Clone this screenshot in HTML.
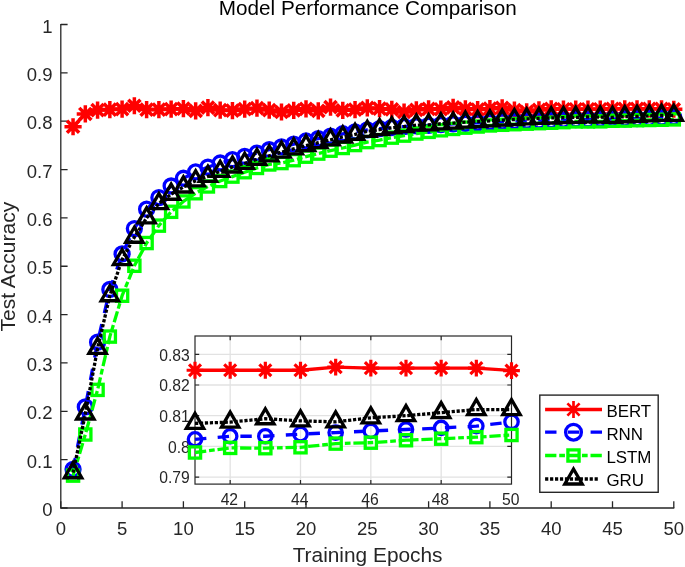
<!DOCTYPE html>
<html lang="en">
<head>
<meta charset="utf-8">
<title>Model Performance Comparison</title>
<style>html,body{margin:0;padding:0;background:#fff}svg{display:block;will-change:transform}</style>
</head>
<body>
<svg width="685" height="567" viewBox="0 0 685 567" font-family="'Liberation Sans', sans-serif">
<rect width="685" height="567" fill="#fff"/>
<path d="M60.8 24.0V508.0H674.3" stroke="#262626" stroke-width="1.3" fill="none"/>
<path d="M60.80 508.0v-6.8M122.10 508.0v-6.8M183.40 508.0v-6.8M244.70 508.0v-6.8M306.00 508.0v-6.8M367.30 508.0v-6.8M428.60 508.0v-6.8M489.90 508.0v-6.8M551.20 508.0v-6.8M612.50 508.0v-6.8M673.80 508.0v-6.8M60.8 508.00h6.8M60.8 459.65h6.8M60.8 411.30h6.8M60.8 362.95h6.8M60.8 314.60h6.8M60.8 266.25h6.8M60.8 217.90h6.8M60.8 169.55h6.8M60.8 121.20h6.8M60.8 72.85h6.8M60.8 24.50h6.8" stroke="#262626" stroke-width="1.3" fill="none"/>
<g font-size="18.5" fill="#262626">
<text x="60.80" y="534.7" text-anchor="middle">0</text>
<text x="122.10" y="534.7" text-anchor="middle">5</text>
<text x="183.40" y="534.7" text-anchor="middle">10</text>
<text x="244.70" y="534.7" text-anchor="middle">15</text>
<text x="306.00" y="534.7" text-anchor="middle">20</text>
<text x="367.30" y="534.7" text-anchor="middle">25</text>
<text x="428.60" y="534.7" text-anchor="middle">30</text>
<text x="489.90" y="534.7" text-anchor="middle">35</text>
<text x="551.20" y="534.7" text-anchor="middle">40</text>
<text x="612.50" y="534.7" text-anchor="middle">45</text>
<text x="673.80" y="534.7" text-anchor="middle">50</text>
<text x="52.5" y="516.00" text-anchor="end">0</text>
<text x="52.5" y="467.65" text-anchor="end">0.1</text>
<text x="52.5" y="419.30" text-anchor="end">0.2</text>
<text x="52.5" y="370.95" text-anchor="end">0.3</text>
<text x="52.5" y="322.60" text-anchor="end">0.4</text>
<text x="52.5" y="274.25" text-anchor="end">0.5</text>
<text x="52.5" y="225.90" text-anchor="end">0.6</text>
<text x="52.5" y="177.55" text-anchor="end">0.7</text>
<text x="52.5" y="129.20" text-anchor="end">0.8</text>
<text x="52.5" y="80.85" text-anchor="end">0.9</text>
<text x="52.5" y="32.50" text-anchor="end">1</text>
</g>
<text x="367.75" y="14.8" font-size="20.7" text-anchor="middle" fill="#000">Model Performance Comparison</text>
<text x="367.6" y="561.8" font-size="20.85" text-anchor="middle" fill="#262626">Training Epochs</text>
<text transform="translate(15.3 266.6) rotate(-90)" font-size="21" text-anchor="middle" fill="#262626">Test Accuracy</text>
<path d="M73.06 126.76L85.32 113.95L97.58 110.08L109.84 109.60L122.10 109.11L134.36 105.73L146.62 109.60L158.88 109.60L171.14 109.11L183.40 108.63L195.66 110.80L207.92 107.66L220.18 110.08L232.44 110.56L244.70 109.11L256.96 108.15L269.22 110.08L281.48 112.01L293.74 110.32L306.00 108.82L318.26 110.80L330.52 107.18L342.78 110.32L355.04 109.60L367.30 107.90L379.56 108.63L391.82 109.35L404.08 112.01L416.34 109.84L428.60 108.87L440.86 109.21L453.12 107.42L465.38 108.87L477.64 109.60L489.90 108.63L502.16 107.81L514.42 110.08L526.68 111.77L538.94 109.89L551.20 108.77L563.46 109.21L575.72 109.21L587.98 109.21L600.24 109.21L612.50 108.73L624.76 108.87L637.02 108.87L649.28 108.87L661.54 108.87L673.80 109.26" stroke="#ff0000" stroke-width="3.3" fill="none" stroke-linejoin="round"/>
<g><path d="M64.46 126.76H81.66M73.06 118.16V135.36M66.98 120.68L79.14 132.84M66.98 132.84L79.14 120.68" stroke="#ff0000" stroke-width="3.5" fill="none"/><path d="M76.72 113.95H93.92M85.32 105.35V122.55M79.24 107.87L91.40 120.03M79.24 120.03L91.40 107.87" stroke="#ff0000" stroke-width="3.5" fill="none"/><path d="M88.98 110.08H106.18M97.58 101.48V118.68M91.50 104.00L103.66 116.16M91.50 116.16L103.66 104.00" stroke="#ff0000" stroke-width="3.5" fill="none"/><path d="M101.24 109.60H118.44M109.84 101.00V118.20M103.76 103.51L115.92 115.68M103.76 115.68L115.92 103.51" stroke="#ff0000" stroke-width="3.5" fill="none"/><path d="M113.50 109.11H130.70M122.10 100.51V117.71M116.02 103.03L128.18 115.19M116.02 115.19L128.18 103.03" stroke="#ff0000" stroke-width="3.5" fill="none"/><path d="M125.76 105.73H142.96M134.36 97.13V114.33M128.28 99.65L140.44 111.81M128.28 111.81L140.44 99.65" stroke="#ff0000" stroke-width="3.5" fill="none"/><path d="M138.02 109.60H155.22M146.62 101.00V118.20M140.54 103.51L152.70 115.68M140.54 115.68L152.70 103.51" stroke="#ff0000" stroke-width="3.5" fill="none"/><path d="M150.28 109.60H167.48M158.88 101.00V118.20M152.80 103.51L164.96 115.68M152.80 115.68L164.96 103.51" stroke="#ff0000" stroke-width="3.5" fill="none"/><path d="M162.54 109.11H179.74M171.14 100.51V117.71M165.06 103.03L177.22 115.19M165.06 115.19L177.22 103.03" stroke="#ff0000" stroke-width="3.5" fill="none"/><path d="M174.80 108.63H192.00M183.40 100.03V117.23M177.32 102.55L189.48 114.71M177.32 114.71L189.48 102.55" stroke="#ff0000" stroke-width="3.5" fill="none"/><path d="M187.06 110.80H204.26M195.66 102.20V119.40M189.58 104.72L201.74 116.89M189.58 116.89L201.74 104.72" stroke="#ff0000" stroke-width="3.5" fill="none"/><path d="M199.32 107.66H216.52M207.92 99.06V116.26M201.84 101.58L214.00 113.74M201.84 113.74L214.00 101.58" stroke="#ff0000" stroke-width="3.5" fill="none"/><path d="M211.58 110.08H228.78M220.18 101.48V118.68M214.10 104.00L226.26 116.16M214.10 116.16L226.26 104.00" stroke="#ff0000" stroke-width="3.5" fill="none"/><path d="M223.84 110.56H241.04M232.44 101.96V119.16M226.36 104.48L238.52 116.64M226.36 116.64L238.52 104.48" stroke="#ff0000" stroke-width="3.5" fill="none"/><path d="M236.10 109.11H253.30M244.70 100.51V117.71M238.62 103.03L250.78 115.19M238.62 115.19L250.78 103.03" stroke="#ff0000" stroke-width="3.5" fill="none"/><path d="M248.36 108.15H265.56M256.96 99.55V116.75M250.88 102.06L263.04 114.23M250.88 114.23L263.04 102.06" stroke="#ff0000" stroke-width="3.5" fill="none"/><path d="M260.62 110.08H277.82M269.22 101.48V118.68M263.14 104.00L275.30 116.16M263.14 116.16L275.30 104.00" stroke="#ff0000" stroke-width="3.5" fill="none"/><path d="M272.88 112.01H290.08M281.48 103.41V120.61M275.40 105.93L287.56 118.09M275.40 118.09L287.56 105.93" stroke="#ff0000" stroke-width="3.5" fill="none"/><path d="M285.14 110.32H302.34M293.74 101.72V118.92M287.66 104.24L299.82 116.40M287.66 116.40L299.82 104.24" stroke="#ff0000" stroke-width="3.5" fill="none"/><path d="M297.40 108.82H314.60M306.00 100.22V117.42M299.92 102.74L312.08 114.90M299.92 114.90L312.08 102.74" stroke="#ff0000" stroke-width="3.5" fill="none"/><path d="M309.66 110.80H326.86M318.26 102.20V119.40M312.18 104.72L324.34 116.89M312.18 116.89L324.34 104.72" stroke="#ff0000" stroke-width="3.5" fill="none"/><path d="M321.92 107.18H339.12M330.52 98.58V115.78M324.44 101.10L336.60 113.26M324.44 113.26L336.60 101.10" stroke="#ff0000" stroke-width="3.5" fill="none"/><path d="M334.18 110.32H351.38M342.78 101.72V118.92M336.70 104.24L348.86 116.40M336.70 116.40L348.86 104.24" stroke="#ff0000" stroke-width="3.5" fill="none"/><path d="M346.44 109.60H363.64M355.04 101.00V118.20M348.96 103.51L361.12 115.68M348.96 115.68L361.12 103.51" stroke="#ff0000" stroke-width="3.5" fill="none"/><path d="M358.70 107.90H375.90M367.30 99.30V116.50M361.22 101.82L373.38 113.98M361.22 113.98L373.38 101.82" stroke="#ff0000" stroke-width="3.5" fill="none"/><path d="M370.96 108.63H388.16M379.56 100.03V117.23M373.48 102.55L385.64 114.71M373.48 114.71L385.64 102.55" stroke="#ff0000" stroke-width="3.5" fill="none"/><path d="M383.22 109.35H400.42M391.82 100.75V117.95M385.74 103.27L397.90 115.44M385.74 115.44L397.90 103.27" stroke="#ff0000" stroke-width="3.5" fill="none"/><path d="M395.48 112.01H412.68M404.08 103.41V120.61M398.00 105.93L410.16 118.09M398.00 118.09L410.16 105.93" stroke="#ff0000" stroke-width="3.5" fill="none"/><path d="M407.74 109.84H424.94M416.34 101.24V118.44M410.26 103.76L422.42 115.92M410.26 115.92L422.42 103.76" stroke="#ff0000" stroke-width="3.5" fill="none"/><path d="M420.00 108.87H437.20M428.60 100.27V117.47M422.52 102.79L434.68 114.95M422.52 114.95L434.68 102.79" stroke="#ff0000" stroke-width="3.5" fill="none"/><path d="M432.26 109.21H449.46M440.86 100.61V117.81M434.78 103.13L446.94 115.29M434.78 115.29L446.94 103.13" stroke="#ff0000" stroke-width="3.5" fill="none"/><path d="M444.52 107.42H461.72M453.12 98.82V116.02M447.04 101.34L459.20 113.50M447.04 113.50L459.20 101.34" stroke="#ff0000" stroke-width="3.5" fill="none"/><path d="M456.78 108.87H473.98M465.38 100.27V117.47M459.30 102.79L471.46 114.95M459.30 114.95L471.46 102.79" stroke="#ff0000" stroke-width="3.5" fill="none"/><path d="M469.04 109.60H486.24M477.64 101.00V118.20M471.56 103.51L483.72 115.68M471.56 115.68L483.72 103.51" stroke="#ff0000" stroke-width="3.5" fill="none"/><path d="M481.30 108.63H498.50M489.90 100.03V117.23M483.82 102.55L495.98 114.71M483.82 114.71L495.98 102.55" stroke="#ff0000" stroke-width="3.5" fill="none"/><path d="M493.56 107.81H510.76M502.16 99.21V116.41M496.08 101.73L508.24 113.89M496.08 113.89L508.24 101.73" stroke="#ff0000" stroke-width="3.5" fill="none"/><path d="M505.82 110.08H523.02M514.42 101.48V118.68M508.34 104.00L520.50 116.16M508.34 116.16L520.50 104.00" stroke="#ff0000" stroke-width="3.5" fill="none"/><path d="M518.08 111.77H535.28M526.68 103.17V120.37M520.60 105.69L532.76 117.85M520.60 117.85L532.76 105.69" stroke="#ff0000" stroke-width="3.5" fill="none"/><path d="M530.34 109.89H547.54M538.94 101.29V118.49M532.86 103.81L545.02 115.97M532.86 115.97L545.02 103.81" stroke="#ff0000" stroke-width="3.5" fill="none"/><path d="M542.60 108.77H559.80M551.20 100.17V117.37M545.12 102.69L557.28 114.86M545.12 114.86L557.28 102.69" stroke="#ff0000" stroke-width="3.5" fill="none"/><path d="M554.86 109.21H572.06M563.46 100.61V117.81M557.38 103.13L569.54 115.29M557.38 115.29L569.54 103.13" stroke="#ff0000" stroke-width="3.5" fill="none"/><path d="M567.12 109.21H584.32M575.72 100.61V117.81M569.64 103.13L581.80 115.29M569.64 115.29L581.80 103.13" stroke="#ff0000" stroke-width="3.5" fill="none"/><path d="M579.38 109.21H596.58M587.98 100.61V117.81M581.90 103.13L594.06 115.29M581.90 115.29L594.06 103.13" stroke="#ff0000" stroke-width="3.5" fill="none"/><path d="M591.64 109.21H608.84M600.24 100.61V117.81M594.16 103.13L606.32 115.29M594.16 115.29L606.32 103.13" stroke="#ff0000" stroke-width="3.5" fill="none"/><path d="M603.90 108.73H621.10M612.50 100.13V117.33M606.42 102.64L618.58 114.81M606.42 114.81L618.58 102.64" stroke="#ff0000" stroke-width="3.5" fill="none"/><path d="M616.16 108.87H633.36M624.76 100.27V117.47M618.68 102.79L630.84 114.95M618.68 114.95L630.84 102.79" stroke="#ff0000" stroke-width="3.5" fill="none"/><path d="M628.42 108.87H645.62M637.02 100.27V117.47M630.94 102.79L643.10 114.95M630.94 114.95L643.10 102.79" stroke="#ff0000" stroke-width="3.5" fill="none"/><path d="M640.68 108.87H657.88M649.28 100.27V117.47M643.20 102.79L655.36 114.95M643.20 114.95L655.36 102.79" stroke="#ff0000" stroke-width="3.5" fill="none"/><path d="M652.94 108.87H670.14M661.54 100.27V117.47M655.46 102.79L667.62 114.95M655.46 114.95L667.62 102.79" stroke="#ff0000" stroke-width="3.5" fill="none"/><path d="M665.20 109.26H682.40M673.80 100.66V117.86M667.72 103.18L679.88 115.34M667.72 115.34L679.88 103.18" stroke="#ff0000" stroke-width="3.5" fill="none"/></g>
<path d="M73.06 469.32L85.32 406.95L97.58 342.16L109.84 289.46L122.10 253.92L134.36 228.54L146.62 209.20L158.88 197.59L171.14 185.99L183.40 178.25L195.66 171.97L207.92 167.13L220.18 163.02L232.44 159.69L244.70 156.35L256.96 153.11L269.22 149.73L281.48 146.83L293.74 144.17L306.00 141.02L318.26 138.61L330.52 136.19L342.78 133.77L355.04 131.84L367.30 129.90L379.56 128.69L391.82 127.49L404.08 126.52L416.34 125.94L428.60 125.41L440.86 124.68L453.12 123.96L465.38 123.38L477.64 122.89L489.90 122.41L502.16 121.93L514.42 121.54L526.68 121.20L538.94 120.86L551.20 120.57L563.46 120.09L575.72 119.60L587.98 119.60L600.24 119.27L612.50 119.02L624.76 118.78L637.02 118.54L649.28 118.30L661.54 118.01L673.80 117.33" stroke="#0000ff" stroke-width="3.3" fill="none" stroke-linejoin="round" stroke-dasharray="11.4 11.35"/>
<g><circle cx="73.06" cy="469.32" r="7.0" stroke="#0000ff" stroke-width="3.3" fill="none"/><circle cx="85.32" cy="406.95" r="7.0" stroke="#0000ff" stroke-width="3.3" fill="none"/><circle cx="97.58" cy="342.16" r="7.0" stroke="#0000ff" stroke-width="3.3" fill="none"/><circle cx="109.84" cy="289.46" r="7.0" stroke="#0000ff" stroke-width="3.3" fill="none"/><circle cx="122.10" cy="253.92" r="7.0" stroke="#0000ff" stroke-width="3.3" fill="none"/><circle cx="134.36" cy="228.54" r="7.0" stroke="#0000ff" stroke-width="3.3" fill="none"/><circle cx="146.62" cy="209.20" r="7.0" stroke="#0000ff" stroke-width="3.3" fill="none"/><circle cx="158.88" cy="197.59" r="7.0" stroke="#0000ff" stroke-width="3.3" fill="none"/><circle cx="171.14" cy="185.99" r="7.0" stroke="#0000ff" stroke-width="3.3" fill="none"/><circle cx="183.40" cy="178.25" r="7.0" stroke="#0000ff" stroke-width="3.3" fill="none"/><circle cx="195.66" cy="171.97" r="7.0" stroke="#0000ff" stroke-width="3.3" fill="none"/><circle cx="207.92" cy="167.13" r="7.0" stroke="#0000ff" stroke-width="3.3" fill="none"/><circle cx="220.18" cy="163.02" r="7.0" stroke="#0000ff" stroke-width="3.3" fill="none"/><circle cx="232.44" cy="159.69" r="7.0" stroke="#0000ff" stroke-width="3.3" fill="none"/><circle cx="244.70" cy="156.35" r="7.0" stroke="#0000ff" stroke-width="3.3" fill="none"/><circle cx="256.96" cy="153.11" r="7.0" stroke="#0000ff" stroke-width="3.3" fill="none"/><circle cx="269.22" cy="149.73" r="7.0" stroke="#0000ff" stroke-width="3.3" fill="none"/><circle cx="281.48" cy="146.83" r="7.0" stroke="#0000ff" stroke-width="3.3" fill="none"/><circle cx="293.74" cy="144.17" r="7.0" stroke="#0000ff" stroke-width="3.3" fill="none"/><circle cx="306.00" cy="141.02" r="7.0" stroke="#0000ff" stroke-width="3.3" fill="none"/><circle cx="318.26" cy="138.61" r="7.0" stroke="#0000ff" stroke-width="3.3" fill="none"/><circle cx="330.52" cy="136.19" r="7.0" stroke="#0000ff" stroke-width="3.3" fill="none"/><circle cx="342.78" cy="133.77" r="7.0" stroke="#0000ff" stroke-width="3.3" fill="none"/><circle cx="355.04" cy="131.84" r="7.0" stroke="#0000ff" stroke-width="3.3" fill="none"/><circle cx="367.30" cy="129.90" r="7.0" stroke="#0000ff" stroke-width="3.3" fill="none"/><circle cx="379.56" cy="128.69" r="7.0" stroke="#0000ff" stroke-width="3.3" fill="none"/><circle cx="391.82" cy="127.49" r="7.0" stroke="#0000ff" stroke-width="3.3" fill="none"/><circle cx="404.08" cy="126.52" r="7.0" stroke="#0000ff" stroke-width="3.3" fill="none"/><circle cx="416.34" cy="125.94" r="7.0" stroke="#0000ff" stroke-width="3.3" fill="none"/><circle cx="428.60" cy="125.41" r="7.0" stroke="#0000ff" stroke-width="3.3" fill="none"/><circle cx="440.86" cy="124.68" r="7.0" stroke="#0000ff" stroke-width="3.3" fill="none"/><circle cx="453.12" cy="123.96" r="7.0" stroke="#0000ff" stroke-width="3.3" fill="none"/><circle cx="465.38" cy="123.38" r="7.0" stroke="#0000ff" stroke-width="3.3" fill="none"/><circle cx="477.64" cy="122.89" r="7.0" stroke="#0000ff" stroke-width="3.3" fill="none"/><circle cx="489.90" cy="122.41" r="7.0" stroke="#0000ff" stroke-width="3.3" fill="none"/><circle cx="502.16" cy="121.93" r="7.0" stroke="#0000ff" stroke-width="3.3" fill="none"/><circle cx="514.42" cy="121.54" r="7.0" stroke="#0000ff" stroke-width="3.3" fill="none"/><circle cx="526.68" cy="121.20" r="7.0" stroke="#0000ff" stroke-width="3.3" fill="none"/><circle cx="538.94" cy="120.86" r="7.0" stroke="#0000ff" stroke-width="3.3" fill="none"/><circle cx="551.20" cy="120.57" r="7.0" stroke="#0000ff" stroke-width="3.3" fill="none"/><circle cx="563.46" cy="120.09" r="7.0" stroke="#0000ff" stroke-width="3.3" fill="none"/><circle cx="575.72" cy="119.60" r="7.0" stroke="#0000ff" stroke-width="3.3" fill="none"/><circle cx="587.98" cy="119.60" r="7.0" stroke="#0000ff" stroke-width="3.3" fill="none"/><circle cx="600.24" cy="119.27" r="7.0" stroke="#0000ff" stroke-width="3.3" fill="none"/><circle cx="612.50" cy="119.02" r="7.0" stroke="#0000ff" stroke-width="3.3" fill="none"/><circle cx="624.76" cy="118.78" r="7.0" stroke="#0000ff" stroke-width="3.3" fill="none"/><circle cx="637.02" cy="118.54" r="7.0" stroke="#0000ff" stroke-width="3.3" fill="none"/><circle cx="649.28" cy="118.30" r="7.0" stroke="#0000ff" stroke-width="3.3" fill="none"/><circle cx="661.54" cy="118.01" r="7.0" stroke="#0000ff" stroke-width="3.3" fill="none"/><circle cx="673.80" cy="117.33" r="7.0" stroke="#0000ff" stroke-width="3.3" fill="none"/></g>
<path d="M73.06 475.61L85.32 434.51L97.58 389.88L109.84 336.60L122.10 295.74L134.36 265.77L146.62 243.04L158.88 225.64L171.14 211.81L183.40 201.46L195.66 193.24L207.92 186.47L220.18 181.01L232.44 176.61L244.70 172.21L256.96 167.95L269.22 164.47L281.48 163.07L293.74 160.17L306.00 156.69L318.26 153.59L330.52 150.69L342.78 147.99L355.04 145.04L367.30 142.09L379.56 140.06L391.82 137.64L404.08 135.61L416.34 133.53L428.60 131.84L440.86 130.29L453.12 128.94L465.38 127.68L477.64 126.52L489.90 125.45L502.16 124.78L514.42 124.20L526.68 123.67L538.94 123.18L551.20 122.75L563.46 122.17L575.72 121.44L587.98 121.49L600.24 121.35L612.50 120.76L624.76 120.62L637.02 120.23L649.28 119.99L661.54 119.75L673.80 119.41" stroke="#00ff00" stroke-width="3.3" fill="none" stroke-linejoin="round" stroke-dasharray="11.3 2.85 5.7 2.85"/>
<g><rect x="67.46" y="470.01" width="11.2" height="11.2" stroke="#00ff00" stroke-width="3.3" fill="none"/><rect x="79.72" y="428.91" width="11.2" height="11.2" stroke="#00ff00" stroke-width="3.3" fill="none"/><rect x="91.98" y="384.28" width="11.2" height="11.2" stroke="#00ff00" stroke-width="3.3" fill="none"/><rect x="104.24" y="331.00" width="11.2" height="11.2" stroke="#00ff00" stroke-width="3.3" fill="none"/><rect x="116.50" y="290.14" width="11.2" height="11.2" stroke="#00ff00" stroke-width="3.3" fill="none"/><rect x="128.76" y="260.17" width="11.2" height="11.2" stroke="#00ff00" stroke-width="3.3" fill="none"/><rect x="141.02" y="237.44" width="11.2" height="11.2" stroke="#00ff00" stroke-width="3.3" fill="none"/><rect x="153.28" y="220.04" width="11.2" height="11.2" stroke="#00ff00" stroke-width="3.3" fill="none"/><rect x="165.54" y="206.21" width="11.2" height="11.2" stroke="#00ff00" stroke-width="3.3" fill="none"/><rect x="177.80" y="195.86" width="11.2" height="11.2" stroke="#00ff00" stroke-width="3.3" fill="none"/><rect x="190.06" y="187.64" width="11.2" height="11.2" stroke="#00ff00" stroke-width="3.3" fill="none"/><rect x="202.32" y="180.87" width="11.2" height="11.2" stroke="#00ff00" stroke-width="3.3" fill="none"/><rect x="214.58" y="175.41" width="11.2" height="11.2" stroke="#00ff00" stroke-width="3.3" fill="none"/><rect x="226.84" y="171.01" width="11.2" height="11.2" stroke="#00ff00" stroke-width="3.3" fill="none"/><rect x="239.10" y="166.61" width="11.2" height="11.2" stroke="#00ff00" stroke-width="3.3" fill="none"/><rect x="251.36" y="162.35" width="11.2" height="11.2" stroke="#00ff00" stroke-width="3.3" fill="none"/><rect x="263.62" y="158.87" width="11.2" height="11.2" stroke="#00ff00" stroke-width="3.3" fill="none"/><rect x="275.88" y="157.47" width="11.2" height="11.2" stroke="#00ff00" stroke-width="3.3" fill="none"/><rect x="288.14" y="154.57" width="11.2" height="11.2" stroke="#00ff00" stroke-width="3.3" fill="none"/><rect x="300.40" y="151.09" width="11.2" height="11.2" stroke="#00ff00" stroke-width="3.3" fill="none"/><rect x="312.66" y="147.99" width="11.2" height="11.2" stroke="#00ff00" stroke-width="3.3" fill="none"/><rect x="324.92" y="145.09" width="11.2" height="11.2" stroke="#00ff00" stroke-width="3.3" fill="none"/><rect x="337.18" y="142.39" width="11.2" height="11.2" stroke="#00ff00" stroke-width="3.3" fill="none"/><rect x="349.44" y="139.44" width="11.2" height="11.2" stroke="#00ff00" stroke-width="3.3" fill="none"/><rect x="361.70" y="136.49" width="11.2" height="11.2" stroke="#00ff00" stroke-width="3.3" fill="none"/><rect x="373.96" y="134.46" width="11.2" height="11.2" stroke="#00ff00" stroke-width="3.3" fill="none"/><rect x="386.22" y="132.04" width="11.2" height="11.2" stroke="#00ff00" stroke-width="3.3" fill="none"/><rect x="398.48" y="130.01" width="11.2" height="11.2" stroke="#00ff00" stroke-width="3.3" fill="none"/><rect x="410.74" y="127.93" width="11.2" height="11.2" stroke="#00ff00" stroke-width="3.3" fill="none"/><rect x="423.00" y="126.24" width="11.2" height="11.2" stroke="#00ff00" stroke-width="3.3" fill="none"/><rect x="435.26" y="124.69" width="11.2" height="11.2" stroke="#00ff00" stroke-width="3.3" fill="none"/><rect x="447.52" y="123.34" width="11.2" height="11.2" stroke="#00ff00" stroke-width="3.3" fill="none"/><rect x="459.78" y="122.08" width="11.2" height="11.2" stroke="#00ff00" stroke-width="3.3" fill="none"/><rect x="472.04" y="120.92" width="11.2" height="11.2" stroke="#00ff00" stroke-width="3.3" fill="none"/><rect x="484.30" y="119.85" width="11.2" height="11.2" stroke="#00ff00" stroke-width="3.3" fill="none"/><rect x="496.56" y="119.18" width="11.2" height="11.2" stroke="#00ff00" stroke-width="3.3" fill="none"/><rect x="508.82" y="118.60" width="11.2" height="11.2" stroke="#00ff00" stroke-width="3.3" fill="none"/><rect x="521.08" y="118.07" width="11.2" height="11.2" stroke="#00ff00" stroke-width="3.3" fill="none"/><rect x="533.34" y="117.58" width="11.2" height="11.2" stroke="#00ff00" stroke-width="3.3" fill="none"/><rect x="545.60" y="117.15" width="11.2" height="11.2" stroke="#00ff00" stroke-width="3.3" fill="none"/><rect x="557.86" y="116.57" width="11.2" height="11.2" stroke="#00ff00" stroke-width="3.3" fill="none"/><rect x="570.12" y="115.84" width="11.2" height="11.2" stroke="#00ff00" stroke-width="3.3" fill="none"/><rect x="582.38" y="115.89" width="11.2" height="11.2" stroke="#00ff00" stroke-width="3.3" fill="none"/><rect x="594.64" y="115.75" width="11.2" height="11.2" stroke="#00ff00" stroke-width="3.3" fill="none"/><rect x="606.90" y="115.16" width="11.2" height="11.2" stroke="#00ff00" stroke-width="3.3" fill="none"/><rect x="619.16" y="115.02" width="11.2" height="11.2" stroke="#00ff00" stroke-width="3.3" fill="none"/><rect x="631.42" y="114.63" width="11.2" height="11.2" stroke="#00ff00" stroke-width="3.3" fill="none"/><rect x="643.68" y="114.39" width="11.2" height="11.2" stroke="#00ff00" stroke-width="3.3" fill="none"/><rect x="655.94" y="114.15" width="11.2" height="11.2" stroke="#00ff00" stroke-width="3.3" fill="none"/><rect x="668.20" y="113.81" width="11.2" height="11.2" stroke="#00ff00" stroke-width="3.3" fill="none"/></g>
<path d="M73.06 472.70L85.32 413.96L97.58 348.44L109.84 295.74L122.10 259.63L134.36 237.24L146.62 217.90L158.88 203.64L171.14 194.21L183.40 186.96L195.66 180.82L207.92 176.42L220.18 171.34L232.44 166.99L244.70 163.26L256.96 159.40L269.22 155.77L281.48 152.14L293.74 148.76L306.00 145.62L318.26 142.67L330.52 139.81L342.78 136.96L355.04 134.35L367.30 131.35L379.56 129.66L391.82 127.82L404.08 126.52L416.34 125.16L428.60 124.83L440.86 123.76L453.12 123.13L465.38 122.17L477.64 121.68L489.90 120.86L502.16 120.14L514.42 119.51L526.68 118.93L538.94 118.40L551.20 117.96L563.46 117.57L575.72 117.38L587.98 116.85L600.24 117.19L612.50 117.33L624.76 116.70L637.02 116.36L649.28 115.88L661.54 115.40L673.80 115.40" stroke="#000000" stroke-width="3.3" fill="none" stroke-linejoin="round" stroke-dasharray="3.2 1.75"/>
<g><path d="M73.06 462.66L81.76 477.73L64.36 477.73Z" stroke="#000000" stroke-width="3.3" fill="none" stroke-linejoin="miter"/><path d="M85.32 403.91L94.02 418.98L76.62 418.98Z" stroke="#000000" stroke-width="3.3" fill="none" stroke-linejoin="miter"/><path d="M97.58 338.40L106.28 353.47L88.88 353.47Z" stroke="#000000" stroke-width="3.3" fill="none" stroke-linejoin="miter"/><path d="M109.84 285.70L118.54 300.77L101.14 300.77Z" stroke="#000000" stroke-width="3.3" fill="none" stroke-linejoin="miter"/><path d="M122.10 249.58L130.80 264.65L113.40 264.65Z" stroke="#000000" stroke-width="3.3" fill="none" stroke-linejoin="miter"/><path d="M134.36 227.19L143.06 242.26L125.66 242.26Z" stroke="#000000" stroke-width="3.3" fill="none" stroke-linejoin="miter"/><path d="M146.62 207.85L155.32 222.92L137.92 222.92Z" stroke="#000000" stroke-width="3.3" fill="none" stroke-linejoin="miter"/><path d="M158.88 193.59L167.58 208.66L150.18 208.66Z" stroke="#000000" stroke-width="3.3" fill="none" stroke-linejoin="miter"/><path d="M171.14 184.16L179.84 199.23L162.44 199.23Z" stroke="#000000" stroke-width="3.3" fill="none" stroke-linejoin="miter"/><path d="M183.40 176.91L192.10 191.98L174.70 191.98Z" stroke="#000000" stroke-width="3.3" fill="none" stroke-linejoin="miter"/><path d="M195.66 170.77L204.36 185.84L186.96 185.84Z" stroke="#000000" stroke-width="3.3" fill="none" stroke-linejoin="miter"/><path d="M207.92 166.37L216.62 181.44L199.22 181.44Z" stroke="#000000" stroke-width="3.3" fill="none" stroke-linejoin="miter"/><path d="M220.18 161.29L228.88 176.36L211.48 176.36Z" stroke="#000000" stroke-width="3.3" fill="none" stroke-linejoin="miter"/><path d="M232.44 156.94L241.14 172.01L223.74 172.01Z" stroke="#000000" stroke-width="3.3" fill="none" stroke-linejoin="miter"/><path d="M244.70 153.22L253.40 168.29L236.00 168.29Z" stroke="#000000" stroke-width="3.3" fill="none" stroke-linejoin="miter"/><path d="M256.96 149.35L265.66 164.42L248.26 164.42Z" stroke="#000000" stroke-width="3.3" fill="none" stroke-linejoin="miter"/><path d="M269.22 145.72L277.92 160.79L260.52 160.79Z" stroke="#000000" stroke-width="3.3" fill="none" stroke-linejoin="miter"/><path d="M281.48 142.10L290.18 157.17L272.78 157.17Z" stroke="#000000" stroke-width="3.3" fill="none" stroke-linejoin="miter"/><path d="M293.74 138.71L302.44 153.78L285.04 153.78Z" stroke="#000000" stroke-width="3.3" fill="none" stroke-linejoin="miter"/><path d="M306.00 135.57L314.70 150.64L297.30 150.64Z" stroke="#000000" stroke-width="3.3" fill="none" stroke-linejoin="miter"/><path d="M318.26 132.62L326.96 147.69L309.56 147.69Z" stroke="#000000" stroke-width="3.3" fill="none" stroke-linejoin="miter"/><path d="M330.52 129.77L339.22 144.84L321.82 144.84Z" stroke="#000000" stroke-width="3.3" fill="none" stroke-linejoin="miter"/><path d="M342.78 126.92L351.48 141.99L334.08 141.99Z" stroke="#000000" stroke-width="3.3" fill="none" stroke-linejoin="miter"/><path d="M355.04 124.31L363.74 139.37L346.34 139.37Z" stroke="#000000" stroke-width="3.3" fill="none" stroke-linejoin="miter"/><path d="M367.30 121.31L376.00 136.38L358.60 136.38Z" stroke="#000000" stroke-width="3.3" fill="none" stroke-linejoin="miter"/><path d="M379.56 119.62L388.26 134.68L370.86 134.68Z" stroke="#000000" stroke-width="3.3" fill="none" stroke-linejoin="miter"/><path d="M391.82 117.78L400.52 132.85L383.12 132.85Z" stroke="#000000" stroke-width="3.3" fill="none" stroke-linejoin="miter"/><path d="M404.08 116.47L412.78 131.54L395.38 131.54Z" stroke="#000000" stroke-width="3.3" fill="none" stroke-linejoin="miter"/><path d="M416.34 115.12L425.04 130.19L407.64 130.19Z" stroke="#000000" stroke-width="3.3" fill="none" stroke-linejoin="miter"/><path d="M428.60 114.78L437.30 129.85L419.90 129.85Z" stroke="#000000" stroke-width="3.3" fill="none" stroke-linejoin="miter"/><path d="M440.86 113.72L449.56 128.79L432.16 128.79Z" stroke="#000000" stroke-width="3.3" fill="none" stroke-linejoin="miter"/><path d="M453.12 113.09L461.82 128.16L444.42 128.16Z" stroke="#000000" stroke-width="3.3" fill="none" stroke-linejoin="miter"/><path d="M465.38 112.12L474.08 127.19L456.68 127.19Z" stroke="#000000" stroke-width="3.3" fill="none" stroke-linejoin="miter"/><path d="M477.64 111.64L486.34 126.71L468.94 126.71Z" stroke="#000000" stroke-width="3.3" fill="none" stroke-linejoin="miter"/><path d="M489.90 110.82L498.60 125.88L481.20 125.88Z" stroke="#000000" stroke-width="3.3" fill="none" stroke-linejoin="miter"/><path d="M502.16 110.09L510.86 125.16L493.46 125.16Z" stroke="#000000" stroke-width="3.3" fill="none" stroke-linejoin="miter"/><path d="M514.42 109.46L523.12 124.53L505.72 124.53Z" stroke="#000000" stroke-width="3.3" fill="none" stroke-linejoin="miter"/><path d="M526.68 108.88L535.38 123.95L517.98 123.95Z" stroke="#000000" stroke-width="3.3" fill="none" stroke-linejoin="miter"/><path d="M538.94 108.35L547.64 123.42L530.24 123.42Z" stroke="#000000" stroke-width="3.3" fill="none" stroke-linejoin="miter"/><path d="M551.20 107.91L559.90 122.98L542.50 122.98Z" stroke="#000000" stroke-width="3.3" fill="none" stroke-linejoin="miter"/><path d="M563.46 107.53L572.16 122.60L554.76 122.60Z" stroke="#000000" stroke-width="3.3" fill="none" stroke-linejoin="miter"/><path d="M575.72 107.33L584.42 122.40L567.02 122.40Z" stroke="#000000" stroke-width="3.3" fill="none" stroke-linejoin="miter"/><path d="M587.98 106.80L596.68 121.87L579.28 121.87Z" stroke="#000000" stroke-width="3.3" fill="none" stroke-linejoin="miter"/><path d="M600.24 107.14L608.94 122.21L591.54 122.21Z" stroke="#000000" stroke-width="3.3" fill="none" stroke-linejoin="miter"/><path d="M612.50 107.29L621.20 122.35L603.80 122.35Z" stroke="#000000" stroke-width="3.3" fill="none" stroke-linejoin="miter"/><path d="M624.76 106.66L633.46 121.73L616.06 121.73Z" stroke="#000000" stroke-width="3.3" fill="none" stroke-linejoin="miter"/><path d="M637.02 106.32L645.72 121.39L628.32 121.39Z" stroke="#000000" stroke-width="3.3" fill="none" stroke-linejoin="miter"/><path d="M649.28 105.84L657.98 120.90L640.58 120.90Z" stroke="#000000" stroke-width="3.3" fill="none" stroke-linejoin="miter"/><path d="M661.54 105.35L670.24 120.42L652.84 120.42Z" stroke="#000000" stroke-width="3.3" fill="none" stroke-linejoin="miter"/><path d="M673.80 105.35L682.50 120.42L665.10 120.42Z" stroke="#000000" stroke-width="3.3" fill="none" stroke-linejoin="miter"/></g>
<rect x="195.0" y="336.0" width="316.50" height="148.10" fill="#fff"/>
<path d="M230.17 336.0V484.1M300.50 336.0V484.1M370.83 336.0V484.1M441.17 336.0V484.1M195.0 477.05H511.5M195.0 446.36H511.5M195.0 415.67H511.5M195.0 384.99H511.5M195.0 354.30H511.5" stroke="#e2e2e2" stroke-width="1.3" fill="none"/>
<rect x="195.0" y="336.0" width="316.50" height="148.10" fill="none" stroke="#262626" stroke-width="1.2"/>
<path d="M230.17 484.1v-4.2M230.17 336.0v4.2M300.50 484.1v-4.2M300.50 336.0v4.2M370.83 484.1v-4.2M370.83 336.0v4.2M441.17 484.1v-4.2M441.17 336.0v4.2M195.0 477.05h4.2M511.5 477.05h-4.2M195.0 446.36h4.2M511.5 446.36h-4.2M195.0 415.67h4.2M511.5 415.67h-4.2M195.0 384.99h4.2M511.5 384.99h-4.2M195.0 354.30h4.2M511.5 354.30h-4.2" stroke="#262626" stroke-width="1.2" fill="none"/>
<g font-size="15.7" fill="#262626">
<text x="229.37" y="504.9" text-anchor="middle">42</text>
<text x="299.70" y="504.9" text-anchor="middle">44</text>
<text x="370.03" y="504.9" text-anchor="middle">46</text>
<text x="440.37" y="504.9" text-anchor="middle">48</text>
<text x="510.70" y="504.9" text-anchor="middle">50</text>
<text x="189.8" y="483.25" text-anchor="end">0.79</text>
<text x="189.8" y="452.56" text-anchor="end">0.8</text>
<text x="189.8" y="421.87" text-anchor="end">0.81</text>
<text x="189.8" y="391.19" text-anchor="end">0.82</text>
<text x="189.8" y="360.50" text-anchor="end">0.83</text>
</g>
<path d="M195.00 370.26L230.17 370.26L265.33 370.26L300.50 370.26L335.67 367.19L370.83 368.11L406.00 368.11L441.17 368.11L476.33 368.11L511.50 370.56" stroke="#ff0000" stroke-width="3.3" fill="none" stroke-linejoin="round"/>
<g><path d="M186.60 370.26H203.40M195.00 361.86V378.66M189.06 364.32L200.94 376.20M189.06 376.20L200.94 364.32" stroke="#ff0000" stroke-width="3.2" fill="none"/><path d="M221.77 370.26H238.57M230.17 361.86V378.66M224.23 364.32L236.11 376.20M224.23 376.20L236.11 364.32" stroke="#ff0000" stroke-width="3.2" fill="none"/><path d="M256.93 370.26H273.73M265.33 361.86V378.66M259.39 364.32L271.27 376.20M259.39 376.20L271.27 364.32" stroke="#ff0000" stroke-width="3.2" fill="none"/><path d="M292.10 370.26H308.90M300.50 361.86V378.66M294.56 364.32L306.44 376.20M294.56 376.20L306.44 364.32" stroke="#ff0000" stroke-width="3.2" fill="none"/><path d="M327.27 367.19H344.07M335.67 358.79V375.59M329.73 361.25L341.61 373.13M329.73 373.13L341.61 361.25" stroke="#ff0000" stroke-width="3.2" fill="none"/><path d="M362.43 368.11H379.23M370.83 359.71V376.51M364.89 362.17L376.77 374.05M364.89 374.05L376.77 362.17" stroke="#ff0000" stroke-width="3.2" fill="none"/><path d="M397.60 368.11H414.40M406.00 359.71V376.51M400.06 362.17L411.94 374.05M400.06 374.05L411.94 362.17" stroke="#ff0000" stroke-width="3.2" fill="none"/><path d="M432.77 368.11H449.57M441.17 359.71V376.51M435.23 362.17L447.11 374.05M435.23 374.05L447.11 362.17" stroke="#ff0000" stroke-width="3.2" fill="none"/><path d="M467.93 368.11H484.73M476.33 359.71V376.51M470.39 362.17L482.27 374.05M470.39 374.05L482.27 362.17" stroke="#ff0000" stroke-width="3.2" fill="none"/><path d="M503.10 370.56H519.90M511.50 362.16V378.96M505.56 364.62L517.44 376.50M505.56 376.50L517.44 364.62" stroke="#ff0000" stroke-width="3.2" fill="none"/></g>
<path d="M195.00 439.30L230.17 436.24L265.33 436.24L300.50 434.09L335.67 432.55L370.83 431.02L406.00 429.48L441.17 427.95L476.33 426.11L511.50 421.81" stroke="#0000ff" stroke-width="3.3" fill="none" stroke-linejoin="round" stroke-dasharray="11.4 11.35"/>
<g><circle cx="195.00" cy="439.30" r="6.7" stroke="#0000ff" stroke-width="3.3" fill="none"/><circle cx="230.17" cy="436.24" r="6.7" stroke="#0000ff" stroke-width="3.3" fill="none"/><circle cx="265.33" cy="436.24" r="6.7" stroke="#0000ff" stroke-width="3.3" fill="none"/><circle cx="300.50" cy="434.09" r="6.7" stroke="#0000ff" stroke-width="3.3" fill="none"/><circle cx="335.67" cy="432.55" r="6.7" stroke="#0000ff" stroke-width="3.3" fill="none"/><circle cx="370.83" cy="431.02" r="6.7" stroke="#0000ff" stroke-width="3.3" fill="none"/><circle cx="406.00" cy="429.48" r="6.7" stroke="#0000ff" stroke-width="3.3" fill="none"/><circle cx="441.17" cy="427.95" r="6.7" stroke="#0000ff" stroke-width="3.3" fill="none"/><circle cx="476.33" cy="426.11" r="6.7" stroke="#0000ff" stroke-width="3.3" fill="none"/><circle cx="511.50" cy="421.81" r="6.7" stroke="#0000ff" stroke-width="3.3" fill="none"/></g>
<path d="M195.00 452.50L230.17 447.90L265.33 448.20L300.50 447.28L335.67 443.60L370.83 442.68L406.00 440.22L441.17 438.69L476.33 437.16L511.50 435.01" stroke="#00ff00" stroke-width="3.3" fill="none" stroke-linejoin="round" stroke-dasharray="11.3 2.85 5.7 2.85"/>
<g><rect x="189.40" y="446.90" width="11.2" height="11.2" stroke="#00ff00" stroke-width="3.3" fill="none"/><rect x="224.57" y="442.30" width="11.2" height="11.2" stroke="#00ff00" stroke-width="3.3" fill="none"/><rect x="259.73" y="442.60" width="11.2" height="11.2" stroke="#00ff00" stroke-width="3.3" fill="none"/><rect x="294.90" y="441.68" width="11.2" height="11.2" stroke="#00ff00" stroke-width="3.3" fill="none"/><rect x="330.07" y="438.00" width="11.2" height="11.2" stroke="#00ff00" stroke-width="3.3" fill="none"/><rect x="365.23" y="437.08" width="11.2" height="11.2" stroke="#00ff00" stroke-width="3.3" fill="none"/><rect x="400.40" y="434.62" width="11.2" height="11.2" stroke="#00ff00" stroke-width="3.3" fill="none"/><rect x="435.57" y="433.09" width="11.2" height="11.2" stroke="#00ff00" stroke-width="3.3" fill="none"/><rect x="470.73" y="431.56" width="11.2" height="11.2" stroke="#00ff00" stroke-width="3.3" fill="none"/><rect x="505.90" y="429.41" width="11.2" height="11.2" stroke="#00ff00" stroke-width="3.3" fill="none"/></g>
<path d="M195.00 423.35L230.17 422.12L265.33 418.74L300.50 420.89L335.67 421.81L370.83 417.82L406.00 415.67L441.17 412.61L476.33 409.54L511.50 409.54" stroke="#000000" stroke-width="3.3" fill="none" stroke-linejoin="round" stroke-dasharray="3.2 1.75"/>
<g><path d="M195.00 413.30L203.70 428.37L186.30 428.37Z" stroke="#000000" stroke-width="3.3" fill="none" stroke-linejoin="miter"/><path d="M230.17 412.07L238.87 427.14L221.47 427.14Z" stroke="#000000" stroke-width="3.3" fill="none" stroke-linejoin="miter"/><path d="M265.33 408.70L274.03 423.77L256.63 423.77Z" stroke="#000000" stroke-width="3.3" fill="none" stroke-linejoin="miter"/><path d="M300.50 410.85L309.20 425.91L291.80 425.91Z" stroke="#000000" stroke-width="3.3" fill="none" stroke-linejoin="miter"/><path d="M335.67 411.77L344.37 426.84L326.97 426.84Z" stroke="#000000" stroke-width="3.3" fill="none" stroke-linejoin="miter"/><path d="M370.83 407.78L379.53 422.85L362.13 422.85Z" stroke="#000000" stroke-width="3.3" fill="none" stroke-linejoin="miter"/><path d="M406.00 405.63L414.70 420.70L397.30 420.70Z" stroke="#000000" stroke-width="3.3" fill="none" stroke-linejoin="miter"/><path d="M441.17 402.56L449.87 417.63L432.47 417.63Z" stroke="#000000" stroke-width="3.3" fill="none" stroke-linejoin="miter"/><path d="M476.33 399.49L485.03 414.56L467.63 414.56Z" stroke="#000000" stroke-width="3.3" fill="none" stroke-linejoin="miter"/><path d="M511.50 399.49L520.20 414.56L502.80 414.56Z" stroke="#000000" stroke-width="3.3" fill="none" stroke-linejoin="miter"/></g>
<rect x="539.8" y="395.1" width="118.40" height="97.20" fill="#fff" stroke="#262626" stroke-width="1.4"/>
<path d="M545.10 409.50L602.00 409.50" stroke="#ff0000" stroke-width="3.3" fill="none" stroke-linejoin="round"/>
<path d="M564.90 409.50H582.10M573.50 400.90V418.10M567.42 403.42L579.58 415.58M567.42 415.58L579.58 403.42" stroke="#ff0000" stroke-width="2.7" fill="none"/>
<text x="606.4" y="416.50" font-size="16.9" fill="#000">BERT</text>
<path d="M545.10 432.20L602.00 432.20" stroke="#0000ff" stroke-width="3.3" fill="none" stroke-linejoin="round" stroke-dasharray="11.4 11.35"/>
<circle cx="573.50" cy="432.20" r="7.9" stroke="#0000ff" stroke-width="3.3" fill="none"/>
<text x="606.4" y="439.80" font-size="16.9" fill="#000">RNN</text>
<path d="M545.10 455.50L602.00 455.50" stroke="#00ff00" stroke-width="3.3" fill="none" stroke-linejoin="round" stroke-dasharray="11.3 2.85 5.7 2.85"/>
<rect x="567.90" y="449.90" width="11.2" height="11.2" stroke="#00ff00" stroke-width="3.3" fill="none"/>
<text x="606.4" y="462.90" font-size="16.9" fill="#000">LSTM</text>
<path d="M545.10 479.00L599.20 479.00" stroke="#000000" stroke-width="3.3" fill="none" stroke-linejoin="round" stroke-dasharray="3.2 1.75"/>
<path d="M573.50 468.95L582.20 484.02L564.80 484.02Z" stroke="#000000" stroke-width="3.3" fill="none" stroke-linejoin="miter"/>
<text x="606.4" y="486.40" font-size="16.9" fill="#000">GRU</text>
</svg>
</body>
</html>
